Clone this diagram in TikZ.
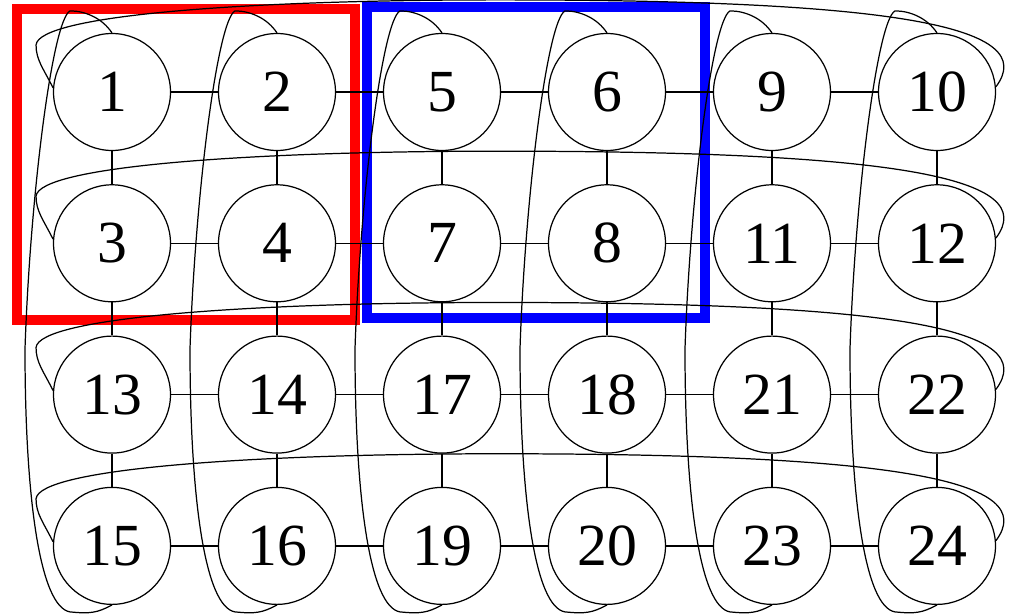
\documentclass[tikz,border=0pt]{standalone}
\usepackage{fontspec}
\setmainfont{Liberation Serif}
\usepackage{tikz}

\begin{document}
\begin{tikzpicture}[
    x=0.02cm, y=-0.02cm,
    vertex/.style={circle, draw, fill=white, line width=0.7pt, inner sep=0pt,
                   minimum size=2.34cm, font=\rmfamily\fontsize{34}{40}\selectfont},
    link/.style={line width=0.7pt},
    wrap/.style={line width=0.7pt},
    block/.style={line width=0.2cm}
  ]
    \useasboundingbox (0,0) rectangle (1009,614);

    % highlighted blocks
    \draw[block, red]  (17,9) rectangle (355,320);
    \draw[block, blue] (367,7) rectangle (705,318);

    \foreach \labs [count=\r from 0] in {{1,2,5,6,9,10},{3,4,7,8,11,12},
                                        {13,14,17,18,21,22},{15,16,19,20,23,24}}
      \foreach \lab [count=\c from 0] in \labs
        \node[vertex] (n\c\r) at ({112+165*\c},{92+151.3*\r}) {\lab};

    % mesh links
    \foreach \r in {0,...,3}
      \foreach \c/\cc in {0/1,1/2,2/3,3/4,4/5}
        \draw[link] (n\c\r) -- (n\cc\r);
    \foreach \c in {0,...,5}
      \foreach \r/\rr in {0/1,1/2,2/3}
        \draw[link] (n\c\r) -- (n\c\rr);

    % torus links
    \foreach \r in {0,...,3}
      \draw[wrap] (n0\r.176) .. controls +(-10,-20) and +(0,15) .. ++(-17,-43)
        .. controls +(3,-30) and +(-250,0) .. ++(463,-45)
        .. controls +(400,0) and +(45,-60) .. (n5\r.5);
    \foreach \c in {0,...,5}
      \draw[wrap] (n\c0.north) .. controls +(-10,-15) and +(15,0) .. ++(-42,-22)
        .. controls +(-18,10) and +(5,-150) .. ++(-45,338)
        .. controls +(0,150) and +(-30,-5) .. ++(45,263)
        .. controls +(20,2) and +(-15,8) .. (n\c3.south);
  \end{tikzpicture}
\end{document}
